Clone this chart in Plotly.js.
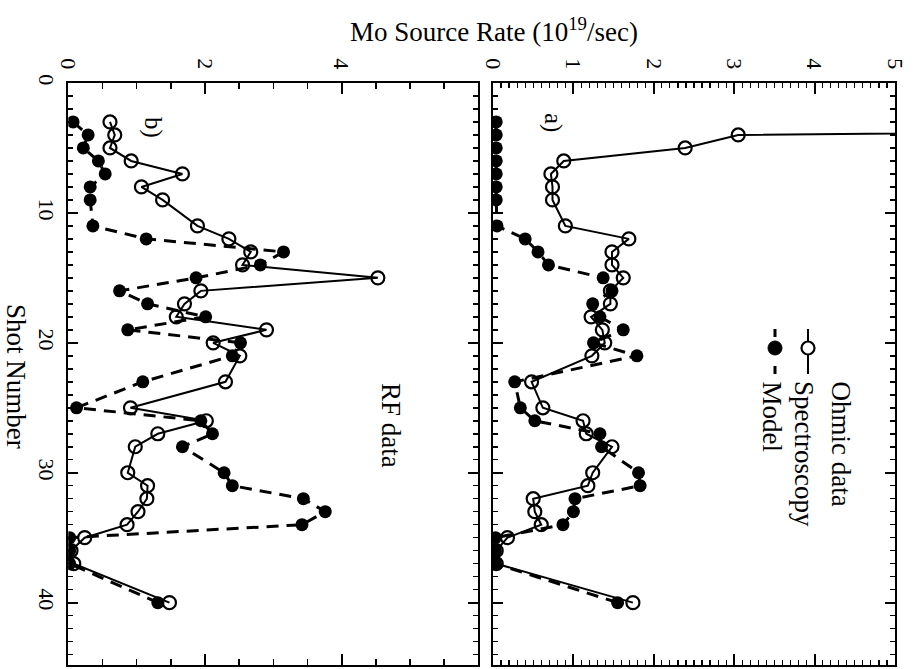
<!DOCTYPE html>
<html>
<head>
<meta charset="utf-8">
<script src="https://cdn.plot.ly/plotly-3.0.1.min.js"></script>
<style>html,body{margin:0;padding:0;background:#fff;}#chart{width:915px;height:669px;}</style>
</head>
<body>
<div id="chart"></div>
<script>
// Shot numbers (shared by both panels)
const shots = [3,4,5,6,7,8,9,11,12,13,14,15,16,17,18,19,20,21,23,25,26,27,28,30,31,32,33,34,35,36,37,40];

// Panel a) Ohmic data (10^19/sec); shot 3 spectroscopy value is off scale
const ohmicSpectroscopy = [20,3.05,2.39,0.88,0.72,0.74,0.74,0.90,1.69,1.48,1.48,1.62,1.46,1.46,1.22,1.36,1.39,1.23,0.48,0.62,1.12,1.16,1.48,1.24,1.18,0.50,0.52,0.60,0.18,0.04,0.04,1.74];
const ohmicModel = [0.04,0.04,0.04,0.04,0.04,0.04,0.04,0.05,0.40,0.56,0.69,1.37,1.48,1.24,1.33,1.62,1.25,1.79,0.27,0.34,0.52,1.33,1.35,1.81,1.83,1.02,1.00,0.87,0.03,0.03,0.03,1.55];

// Panel b) RF data (10^19/sec)
const rfSpectroscopy = [0.61,0.68,0.61,0.92,1.67,1.07,1.38,1.89,2.35,2.67,2.55,4.53,1.94,1.70,1.58,2.90,2.12,2.51,2.30,0.91,2.02,1.31,0.98,0.87,1.16,1.15,1.02,0.86,0.24,0.04,0.08,1.48];
const rfModel = [0.07,0.29,0.22,0.44,0.54,0.32,0.32,0.36,1.14,3.15,2.81,1.87,0.75,1.16,2.01,0.87,2.52,2.40,1.09,0.12,1.94,2.11,1.67,2.28,2.40,3.44,3.76,3.42,0.02,0.02,0.02,1.31];

// Tick labels
const shotTicks = [0,10,20,30,40];
const rfRateTicks = [0,2,4];
const ohmicRateTicks = [0,1,2,3,4,5];

const FONT = 'Liberation Serif, Times New Roman, serif';
const W = 915, H = 669;
const px = v => v / W;
const py = v => 1 - v / H;

function specTrace(x, y, xa, ya) {
  return {x: x, y: y, xaxis: xa, yaxis: ya, type: 'scatter', mode: 'lines+markers',
    line: {color: '#000', width: 2},
    marker: {symbol: 'circle-open', size: 13, color: '#000', line: {width: 2.2, color: '#000'}},
    showlegend: false, hoverinfo: 'skip'};
}
function modelTrace(x, y, xa, ya) {
  return {x: x, y: y, xaxis: xa, yaxis: ya, type: 'scatter', mode: 'lines+markers',
    line: {color: '#000', width: 3, dash: '12px,8px'},
    marker: {symbol: 'circle', size: 13, color: '#000'},
    showlegend: false, hoverinfo: 'skip'};
}

const data = [
  modelTrace(rfModel, shots, 'x', 'y'),
  specTrace(rfSpectroscopy, shots, 'x', 'y'),
  modelTrace(ohmicModel, shots, 'x2', 'y2'),
  specTrace(ohmicSpectroscopy, shots, 'x2', 'y2')
];

const tickfont = {family: FONT, size: 22, color: '#000'};
const commonAxis = {
  showline: true, linecolor: '#000', linewidth: 2, mirror: 'ticks',
  ticks: 'inside', tickcolor: '#000', tickwidth: 2,
  showgrid: false, zeroline: false, tickangle: 90, tickfont: tickfont
};

const layout = {
  width: W, height: H,
  margin: {l: 0, r: 0, t: 0, b: 0},
  paper_bgcolor: '#fff', plot_bgcolor: '#fff',
  showlegend: false,
  title: {text: 'Mo Source Rate (10<sup>19</sup>/sec)', x: px(494), y: py(32), xanchor: 'center', yanchor: 'middle',
    font: {family: FONT, size: 27, color: '#000'}},
  xaxis: Object.assign({}, commonAxis, {
    domain: [px(68.3), px(478.3)], range: [0, 6], side: 'top', anchor: 'y',
    tickmode: 'array', tickvals: rfRateTicks, ticktext: rfRateTicks.map(String), ticklen: 11,
    ticklabelstandoff: 4,
    minor: {dtick: 0.5, tick0: 0, ticklen: 6, tickwidth: 1.5, tickcolor: '#000', ticks: 'inside'}
  }),
  xaxis2: Object.assign({}, commonAxis, {
    domain: [px(493), px(895)], range: [0, 5], side: 'top', anchor: 'y2',
    tickmode: 'array', tickvals: ohmicRateTicks, ticktext: ohmicRateTicks.map(String), ticklen: 11,
    ticklabelstandoff: 4,
    minor: {dtick: 0.1, tick0: 0, ticklen: 5, tickwidth: 1.2, tickcolor: '#000', ticks: 'inside'}
  }),
  yaxis: Object.assign({}, commonAxis, {
    domain: [py(665), py(83)], range: [44.8, 0], anchor: 'x',
    tickmode: 'array', tickvals: shotTicks, ticktext: shotTicks.map(String), ticklen: 10,
    ticklabelstandoff: 1,
    minor: {dtick: 1, tick0: 0, ticklen: 5, tickwidth: 1.5, tickcolor: '#000', ticks: 'inside'}
  }),
  yaxis2: Object.assign({}, commonAxis, {
    domain: [py(665), py(83)], range: [44.8, 0], anchor: 'x2', matches: 'y',
    tickmode: 'array', tickvals: shotTicks, showticklabels: false, ticklen: 10,
    minor: {dtick: 1, tick0: 0, ticklen: 5, tickwidth: 1.5, tickcolor: '#000', ticks: 'inside'}
  }),
  annotations: [
    {text: 'Shot Number', x: px(16), y: py(376), xref: 'paper', yref: 'paper', showarrow: false,
      textangle: 90, xanchor: 'center', yanchor: 'middle', font: {family: FONT, size: 27, color: '#000'}},
    {text: 'a)', x: px(553), y: py(122), xref: 'paper', yref: 'paper', showarrow: false,
      textangle: 90, xanchor: 'center', yanchor: 'middle', font: {family: FONT, size: 25, color: '#000'}},
    {text: 'b)', x: px(153), y: py(127), xref: 'paper', yref: 'paper', showarrow: false,
      textangle: 90, xanchor: 'center', yanchor: 'middle', font: {family: FONT, size: 25, color: '#000'}},
    {text: 'RF data', x: px(391), y: py(425), xref: 'paper', yref: 'paper', showarrow: false,
      textangle: 90, xanchor: 'center', yanchor: 'middle', font: {family: FONT, size: 27, color: '#000'}},
    {text: 'Ohmic data', x: px(841), y: py(379), xref: 'paper', yref: 'paper', showarrow: false,
      textangle: 90, xanchor: 'center', yanchor: 'top', font: {family: FONT, size: 27, color: '#000'}},
    {text: 'Spectroscopy', x: px(804), y: py(379), xref: 'paper', yref: 'paper', showarrow: false,
      textangle: 90, xanchor: 'center', yanchor: 'top', font: {family: FONT, size: 27, color: '#000'}},
    {text: 'Model', x: px(772), y: py(379), xref: 'paper', yref: 'paper', showarrow: false,
      textangle: 90, xanchor: 'center', yanchor: 'top', font: {family: FONT, size: 27, color: '#000'}}
  ],
  shapes: [
    // legend sample: Spectroscopy (solid line + open circle)
    {type: 'line', xref: 'paper', yref: 'paper', x0: px(808), x1: px(808), y0: py(329), y1: py(374),
      line: {color: '#000', width: 2}},
    {type: 'circle', xref: 'paper', yref: 'paper', x0: px(801.5), x1: px(814.5), y0: py(341.5), y1: py(354.5),
      fillcolor: '#fff', line: {color: '#000', width: 2.2}},
    // legend sample: Model (dashed line + filled circle)
    {type: 'line', xref: 'paper', yref: 'paper', x0: px(775), x1: px(775), y0: py(329), y1: py(337),
      line: {color: '#000', width: 3}},
    {type: 'line', xref: 'paper', yref: 'paper', x0: px(775), x1: px(775), y0: py(366), y1: py(374),
      line: {color: '#000', width: 3}},
    {type: 'circle', xref: 'paper', yref: 'paper', x0: px(768), x1: px(782), y0: py(341), y1: py(355),
      fillcolor: '#000', line: {color: '#000', width: 1}}
  ]
};

Plotly.newPlot('chart', data, layout, {staticPlot: true, displayModeBar: false});
</script>
</body>
</html>
